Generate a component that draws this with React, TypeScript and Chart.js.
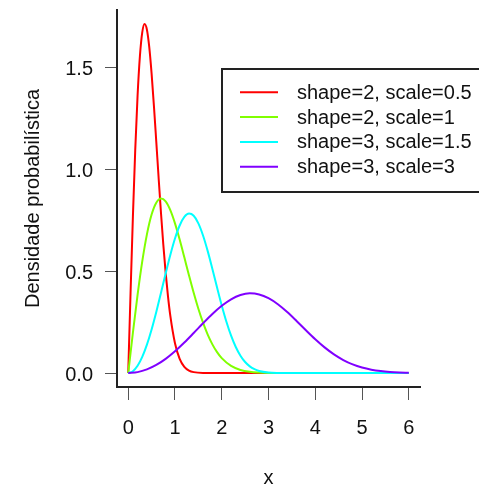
import React, { useEffect, useRef } from 'react';
import { Chart, registerables } from 'chart.js';

Chart.register(...registerables);

// ---- data ----
const seriesLabels = ['shape=2, scale=0.5', 'shape=2, scale=1', 'shape=3, scale=1.5', 'shape=3, scale=3'];
const seriesColors = ['#FF0000', '#80FF00', '#00FFFF', '#8000FF'];

const redX = [0, 0.05, 0.1, 0.15, 0.2, 0.25, 0.3, 0.35, 0.4, 0.45, 0.5, 0.55, 0.6, 0.65, 0.7, 0.75, 0.8, 0.85, 0.9, 1.0, 1.1, 1.2, 1.3, 1.4, 1.6, 2, 3, 4, 5, 6];
const redY = [0, 0.396, 0.7686, 1.0967, 1.3634, 1.5576, 1.6744, 1.7154, 1.6873, 1.6015, 1.4715, 1.3121, 1.1373, 0.9595, 0.7888, 0.6324, 0.4947, 0.3779, 0.2819, 0.1465, 0.0696, 0.0303, 0.01205, 0.00441, 0.00046, 0, 0, 0, 0, 0];

const greenX = [0, 0.1, 0.2, 0.3, 0.4, 0.5, 0.6, 0.7, 0.8, 0.9, 1.0, 1.1, 1.2, 1.3, 1.4, 1.5, 1.6, 1.7, 1.8, 1.9, 2.0, 2.2, 2.4, 2.6, 2.8, 3.0, 3.5, 4, 5, 6];
const greenY = [0, 0.198, 0.3843, 0.5484, 0.6817, 0.7788, 0.8372, 0.8577, 0.8437, 0.8007, 0.7358, 0.656, 0.5686, 0.4798, 0.3944, 0.3162, 0.2474, 0.189, 0.141, 0.1028, 0.0733, 0.0348, 0.0151, 0.006, 0.0022, 0.00074, 0.00003, 0, 0, 0];

const cyanX = [0, 0.1, 0.2, 0.3, 0.4, 0.5, 0.6, 0.7, 0.8, 0.9, 1.0, 1.1, 1.2, 1.3, 1.4, 1.5, 1.6, 1.7, 1.8, 1.9, 2.0, 2.1, 2.2, 2.3, 2.4, 2.5, 2.6, 2.7, 2.8, 3.0, 3.2, 3.5, 4, 5, 6];
const cyanY = [0, 0.00889, 0.03547, 0.07936, 0.13955, 0.21414, 0.30016, 0.39346, 0.48882, 0.58013, 0.66094, 0.72501, 0.7671, 0.78347, 0.77271, 0.73576, 0.67607, 0.59917, 0.5116, 0.42041, 0.33224, 0.2521, 0.18349, 0.12786, 0.08518, 0.05421, 0.03292, 0.01901, 0.01044, 0.00268, 0.00055, 0.00003, 0, 0, 0];

const purpleX = [0, 0.2, 0.4, 0.6, 0.8, 1.0, 1.2, 1.4, 1.6, 1.8, 2.0, 2.2, 2.4, 2.6, 2.8, 3.0, 3.2, 3.4, 3.6, 3.8, 4.0, 4.2, 4.4, 4.6, 4.8, 5.0, 5.2, 5.4, 5.6, 5.8, 6.0];
const purpleY = [0, 0.004443, 0.017736, 0.039681, 0.069775, 0.10707, 0.15008, 0.19673, 0.24441, 0.29007, 0.33047, 0.36251, 0.38355, 0.39174, 0.38636, 0.36788, 0.33804, 0.29958, 0.2558, 0.2102, 0.16612, 0.12605, 0.09174, 0.06393, 0.04259, 0.0271, 0.01646, 0.0095, 0.00522, 0.00272, 0.00134];

const xTickValues = [0, 1, 2, 3, 4, 5, 6];
const yTickValues = [0, 0.5, 1.0, 1.5];
const xAxisTitle = 'x';
const yAxisTitle = 'Densidade probabilística';

const xValues = [redX, greenX, cyanX, purpleX];
const yValues = [redY, greenY, cyanY, purpleY];

const FONT = '"Liberation Sans", Arial, Helvetica, sans-serif';
const FONT_SIZE = 20;
const TEXT_COLOR = '#111';

const boxLegend = {
  id: 'boxLegend',
  afterDraw(chart: any) {
    const { ctx, chartArea } = chart;
    const left = chartArea.left + 105;
    const top = chartArea.top + 59;
    const rowY0 = top + 23.3;
    const rowStep = 24.8;
    ctx.save();
    ctx.strokeStyle = '#222';
    ctx.lineWidth = 2;
    ctx.strokeRect(left, top, 300, 123);
    ctx.font = `${FONT_SIZE}px ${FONT}`;
    ctx.textBaseline = 'middle';
    ctx.textAlign = 'left';
    chart.data.datasets.forEach((ds: any, i: number) => {
      const y = rowY0 + i * rowStep;
      ctx.strokeStyle = ds.borderColor;
      ctx.lineWidth = 2;
      ctx.beginPath();
      ctx.moveTo(left + 18, y);
      ctx.lineTo(left + 56, y);
      ctx.stroke();
      ctx.fillStyle = TEXT_COLOR;
      ctx.fillText(ds.label, left + 75, y + 1);
    });
    ctx.restore();
  },
};

export default function App() {
  const ref = useRef<HTMLCanvasElement | null>(null);

  useEffect(() => {
    if (!ref.current) return;
    const datasets = seriesLabels.map((label, i) => ({
      label,
      data: xValues[i].map((x, j) => ({ x, y: yValues[i][j] })),
      borderColor: seriesColors[i],
      backgroundColor: seriesColors[i],
      borderWidth: 2,
      pointRadius: 0,
      fill: false,
      cubicInterpolationMode: 'monotone' as const,
      order: seriesLabels.length - i,
    }));

    const chart = new Chart(ref.current, {
      type: 'line',
      data: { datasets },
      plugins: [boxLegend],
      options: {
        animation: false,
        responsive: false,
        devicePixelRatio: 1,
        layout: { padding: { left: 0, top: 10, right: 59, bottom: 0 } },
        plugins: { legend: { display: false }, tooltip: { enabled: false } },
        scales: {
          x: {
            type: 'linear',
            min: -0.24,
            max: 6.24,
            afterBuildTicks: (scale: any) => {
              scale.ticks = xTickValues.map((v) => ({ value: v }));
            },
            afterFit: (scale: any) => {
              scale.height = 99;
              scale.paddingLeft = 0;
              scale.paddingRight = 0;
            },
            border: { display: true, color: '#222', width: 2 },
            grid: { drawOnChartArea: false, drawTicks: true, tickLength: 13, tickColor: '#555', tickWidth: 1, color: '#555' },
            ticks: {
              color: TEXT_COLOR,
              font: { family: FONT, size: FONT_SIZE, lineHeight: 1 },
              padding: 18,
              maxRotation: 0,
              autoSkip: false,
              callback: (v: any) => String(v),
            },
            title: {
              display: true,
              text: xAxisTitle,
              color: TEXT_COLOR,
              font: { family: FONT, size: FONT_SIZE, lineHeight: 1 },
              padding: { top: 0, bottom: -2 },
            },
          },
          y: {
            type: 'linear',
            min: -0.0686,
            max: 1.7842,
            afterBuildTicks: (scale: any) => {
              scale.ticks = yTickValues.map((v) => ({ value: v }));
            },
            afterFit: (scale: any) => {
              scale.width = 117;
              scale.paddingTop = 0;
              scale.paddingBottom = 0;
            },
            border: { display: true, color: '#222', width: 2 },
            grid: { drawOnChartArea: false, drawTicks: true, tickLength: 12, tickColor: '#555', tickWidth: 1, color: '#555' },
            ticks: {
              color: TEXT_COLOR,
              font: { family: FONT, size: FONT_SIZE, lineHeight: 1 },
              padding: 12,
              labelOffset: 2,
              autoSkip: false,
              callback: (v: any) => Number(v).toFixed(1),
            },
            title: {
              display: true,
              text: yAxisTitle,
              color: TEXT_COLOR,
              font: { family: FONT, size: FONT_SIZE, lineHeight: 1 },
              padding: { top: 23, bottom: 0 },
            },
          },
        },
      },
    });
    return () => chart.destroy();
  }, []);

  return (
    <div style={{ position: 'absolute', left: 0, top: 0, width: 479, height: 486, background: '#fff' }}>
      <canvas ref={ref} width={479} height={486} style={{ width: 479, height: 486, display: 'block' }} />
    </div>
  );
}
